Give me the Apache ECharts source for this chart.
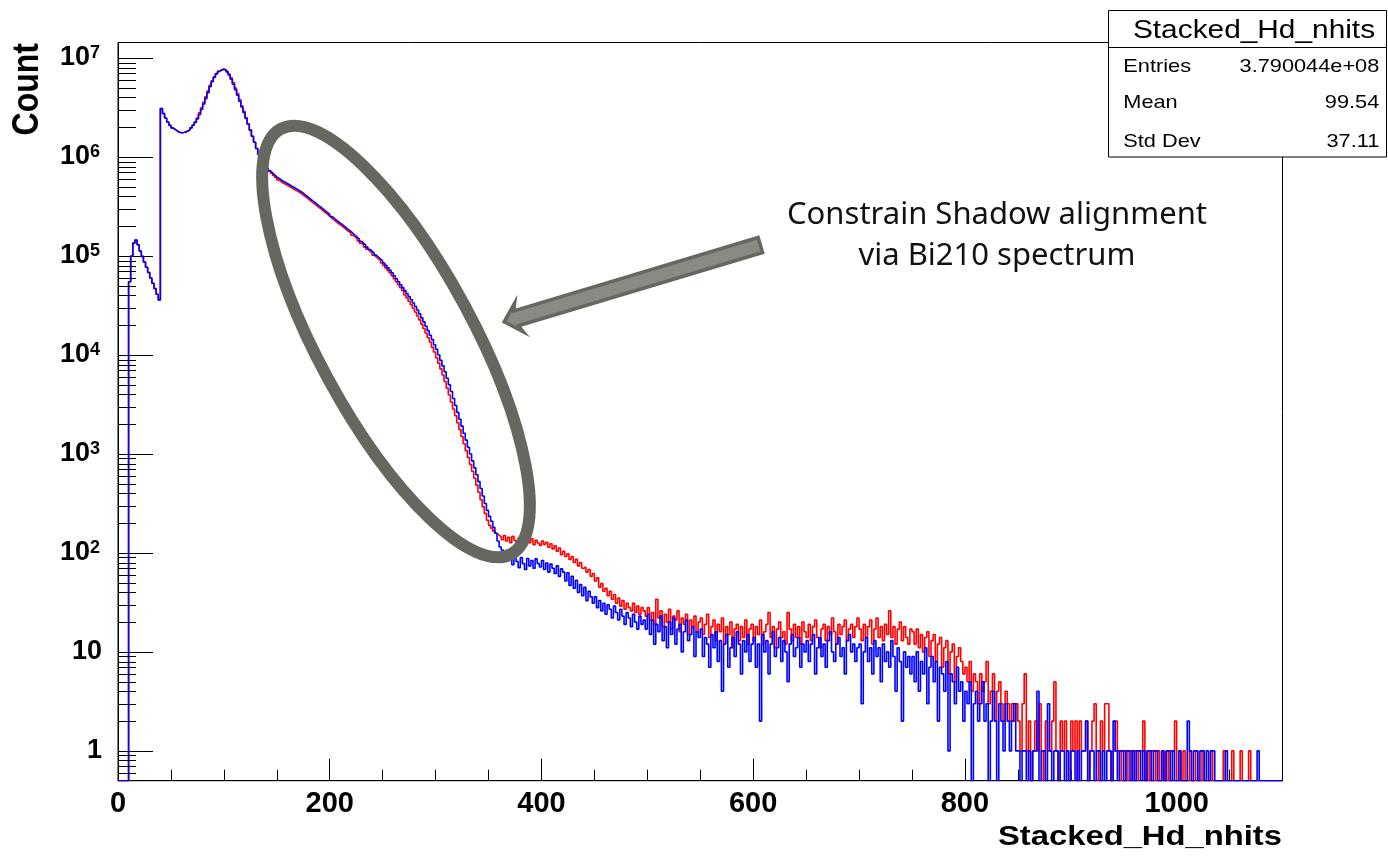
<!DOCTYPE html>
<html><head><meta charset="utf-8">
<script src="https://cdn.jsdelivr.net/npm/echarts@6/dist/echarts.min.js"></script>
<style>html,body{margin:0;padding:0;background:#fff}#c{width:1388px;height:857px}</style>
</head><body><div id="c"></div>
<script>
// ---------- data ----------
const binWidth = 2;            // width of one histogram bin (nhits)
const xRange = [0, 1100];
const yRange = [0.5, 1.435e7];
const xTickLabels = ['0', '200', '400', '600', '800', '1000'];
const yTickExponents = [0, 1, 2, 3, 4, 5, 6, 7];

// counts per bin, bins start at 0 and are binWidth wide (25 bins = 50 nhits per row)
const blueCounts = [
  0,0,0,0,0,5.5e4,1.0e5,1.35e5,1.45e5,1.3e5,1.12e5,9.9e4,8.7e4,7.7e4,6.8e4,6.0e4,5.3e4,4.7e4,4.1e4,3.6e4,3.09e6,2.75e6,2.48e6,2.26e6,2.09e6,
  1.97e6,1.905e6,1.84e6,1.78e6,1.76e6,1.77e6,1.79e6,1.83e6,1.88e6,1.97e6,2.09e6,2.24e6,2.43e6,2.69e6,3.02e6,3.43e6,3.89e6,4.47e6,5.13e6,5.75e6,6.38e6,6.92e6,7.33e6,7.59e6,7.69e6,
  7.59e6,7.24e6,6.76e6,6.1e6,5.43e6,4.79e6,4.22e6,3.67e6,3.2e6,2.82e6,2.45e6,2.14e6,1.86e6,1.62e6,1.41e6,1.22e6,1.06e6,9.44e5,8.71e5,8.13e5,7.67e5,7.24e5,6.92e5,6.61e5,6.31e5,
  6.1e5,5.89e5,5.69e5,5.56e5,5.4e5,5.25e5,5.09e5,4.95e5,4.81e5,4.68e5,4.54e5,4.4e5,4.23e5,4.06e5,3.91e5,3.76e5,3.61e5,3.48e5,3.34e5,3.21e5,3.09e5,2.97e5,2.85e5,2.74e5,2.63e5,
  2.51e5,2.42e5,2.32e5,2.23e5,2.15e5,2.07e5,1.99e5,1.91e5,1.84e5,1.77e5,1.69e5,1.62e5,1.55e5,1.48e5,1.41e5,1.35e5,1.29e5,1.23e5,1.17e5,1.12e5,1.07e5,1.02e5,9.77e4,9.33e4,8.95e4,
  8.51e4,8.04e4,7.59e4,7.16e4,6.76e4,6.31e4,5.89e4,5.5e4,5.13e4,4.79e4,4.47e4,4.17e4,3.89e4,3.63e4,3.35e4,3.09e4,2.85e4,2.6e4,2.37e4,2.16e4,1.95e4,1.76e4,1.58e4,1.43e4,1.27e4,
  1.14e4,1.0e4,8810,7760,6760,5820,5010,4270,3630,3090,2630,2240,1910,1620,1380,1170,1000,851,724,617,525,447,376,316,269,
  234,209,182,158,132,115,107,92,106,84,95,76,98,82,71,90,78,68,88,74,84,70,87,78,72,
  84,68,79,64,77,70,62,74,58,69,64,52,63,47,58,44,53,40,48,37,45,33,41,36,31,
  36,28,33,26,31,24,30,27,22,29,25,21,27,23,19,25,22,18,24,20,17,23,19,21,17,
  24,15,21,12,19,16,23,13,18,11,20,15,22,12,17,19,10,16,21,13,15,18,9,16,14,
  17,9,14,12,7,15,11,16,8,13,4,12,15,7,11,14,9,16,12,6,13,10,15,8,12,
  14,7,12,2,15,10,13,6,12,16,9,11,14,8,13,10,5,12,15,9,11,14,7,12,10,
  13,8,12,15,6,11,14,9,12,7,13,16,10,8,12,14,9,11,6,13,15,10,12,8,11,
  12,3,10,14,8,11,6,13,9,11,5,12,8,10,7,13,9,4,11,8,2,10,7,9,6,
  9,5,10,4,8,6,11,3,7,9,5,8,2,7,6,4,8,1,6,5,3,7,4,5,2,
  4,3,5,0,3,4,2,3,5,2,3,0,2,4,2,0,3,2,1,3,2,1,2,3,1,
  1,0,1,1,0,1,0,1,1,4,0,1,1,0,3,1,0,1,1,0,1,1,0,1,0,
  1,1,0,1,0,1,1,2,0,1,1,0,1,1,0,1,0,1,1,0,2,1,0,1,1,
  0,1,1,0,1,0,1,1,0,1,0,1,1,0,1,1,0,0,1,0,1,1,0,1,0,
  0,1,0,0,0,2,1,0,1,1,0,1,1,0,1,0,1,1,0,0,0,0,0,1,0,
  0,0,0,0,0,0,0,0,0,0,0,0,0,1,0,0,0,0,0,0,0,0,0,0,0
];
const redCounts = [
  0,0,0,0,0,5.5e4,1.0e5,1.35e5,1.45e5,1.3e5,1.12e5,9.9e4,8.7e4,7.7e4,6.8e4,6.0e4,5.3e4,4.7e4,4.1e4,3.6e4,3.09e6,2.75e6,2.48e6,2.26e6,2.09e6,
  1.97e6,1.905e6,1.84e6,1.78e6,1.76e6,1.77e6,1.79e6,1.83e6,1.88e6,1.97e6,2.09e6,2.26e6,2.47e6,2.8e6,3.15e6,3.57e6,4.05e6,4.65e6,5.3e6,5.9e6,6.45e6,6.95e6,7.33e6,7.59e6,7.69e6,
  7.59e6,7.3e6,6.9e6,6.3e6,5.65e6,4.98e6,4.38e6,3.8e6,3.3e6,2.9e6,2.5e6,2.17e6,1.88e6,1.62e6,1.41e6,1.22e6,1.06e6,9.44e5,8.71e5,8.13e5,7.67e5,7.2e5,6.85e5,6.5e5,6.2e5,
  5.86e5,5.65e5,5.46e5,5.34e5,5.18e5,5.04e5,4.89e5,4.75e5,4.62e5,4.49e5,4.36e5,4.22e5,4.06e5,3.9e5,3.75e5,3.61e5,3.47e5,3.34e5,3.21e5,3.08e5,2.97e5,2.85e5,2.74e5,2.63e5,2.52e5,
  2.41e5,2.32e5,2.23e5,2.14e5,2.06e5,1.99e5,1.91e5,1.83e5,1.77e5,1.70e5,1.62e5,1.56e5,1.49e5,1.42e5,1.35e5,1.29e5,1.23e5,1.17e5,1.12e5,1.07e5,1.02e5,9.77e4,9.33e4,8.95e4,8.51e4,
  8.04e4,7.59e4,7.16e4,6.76e4,6.31e4,5.89e4,5.5e4,5.13e4,4.79e4,4.47e4,4.03e4,3.76e4,3.49e4,3.22e4,2.97e4,2.72e4,2.48e4,2.26e4,2.05e4,1.85e4,1.67e4,1.5e4,1.35e4,1.2e4,1.07e4,
  9390,8270,7240,6270,5400,4620,3940,3350,2850,2430,2070,1760,1500,1270,1080,923,785,668,569,484,410,345,292,251,214,
  190,178,166,158,151,145,136,150,132,144,127,147,134,124,142,129,140,122,136,127,139,121,134,126,119,
  132,122,128,114,124,110,118,104,112,96,104,92,98,86,92,80,86,74,80,70,72,64,68,58,62,
  52,56,45,49,41,44,37,41,34,38,31,35,29,33,27,31,28,26,31,25,29,24,28,26,23,
  28,21,25,19,34,22,26,18,24,20,27,17,23,21,26,16,22,19,24,15,21,18,23,16,20,
  22,15,19,24,14,18,21,13,19,16,22,12,18,15,20,11,17,19,13,18,14,21,12,17,19,
  13,18,15,21,12,16,19,25,14,18,11,17,20,14,16,12,25,17,13,19,14,18,12,20,16,
  14,19,13,18,21,14,11,17,19,13,18,15,22,16,12,19,15,18,21,13,17,19,14,18,22,
  17,13,19,14,18,21,12,17,22,14,18,13,19,15,26,14,18,12,17,20,13,18,14,12,17,
  16,12,17,11,15,10,14,16,9,13,15,8,12,14,7,11,13,6,10,12,5,9,11,8,6,
  7,5,8,4,6,5,3,6,4,5,8,3,4,6,2,4,5,3,2,4,3,2,3,2,3,
  2,1,3,6,1,2,0,1,2,1,3,1,0,2,1,1,2,5,1,0,2,1,2,1,0,
  2,1,2,0,2,1,1,2,0,1,2,3,1,0,2,1,3,3,1,0,1,2,1,0,1,
  1,0,1,1,0,1,0,1,1,2,0,1,0,1,1,0,1,0,1,0,1,0,1,1,2,
  0,1,0,1,0,0,1,0,0,1,0,0,1,0,0,0,1,0,0,0,0,0,1,0,0,
  0,1,0,0,0,1,0,0,0,1,0,0,0,0,0,0,0,0,0,0,0,0,0,0,0
];
const statsTitle = 'Stacked_Hd_nhits';
const statsRows = [['Entries', '3.790044e+08'], ['Mean', '99.54'], ['Std Dev', '37.11']];
const xTitle = 'Stacked_Hd_nhits';
const yTitle = 'Count';
const noteText = 'Constrain Shadow alignment\nvia Bi210 spectrum';

// ---------- helpers ----------
function toSteps(counts) {
  // empty bins are drawn on the lower frame edge, as ROOT does on a log scale
  const pts = counts.map((c, i) => [xRange[0] + i * binWidth, c > 0 ? c : yRange[0]]);
  pts.push([xRange[0] + counts.length * binWidth, pts[pts.length - 1][1]]);
  return pts;
}
const minorTickValues = [];
for (let e = -1; e <= 7; e++) {
  for (let k = 2; k <= 9; k++) {
    const v = k * Math.pow(10, e);
    if (v > yRange[0] && v < yRange[1]) minorTickValues.push([0, v]);
  }
}

const FONT = '"Liberation Sans", Arial, Helvetica, sans-serif';
const STRETCH = 1.17;

const chart = echarts.init(document.getElementById('c'), null, { renderer: 'canvas' });
chart.setOption({
  animation: false,
  backgroundColor: '#ffffff',
  grid: {
    left: 118, right: 105.5, top: 42.5, bottom: 76.3,
    show: true, borderColor: '#000', borderWidth: 1, backgroundColor: 'transparent',
    containLabel: false, outerBoundsMode: 'none'
  },
  xAxis: [
    {
      type: 'value', min: xRange[0], max: xRange[1], interval: 200,
      axisLine: { show: true, lineStyle: { color: '#000', width: 1 } },
      axisTick: { show: true, inside: true, length: 22, lineStyle: { color: '#000', width: 1 } },
      splitLine: { show: false },
      axisLabel: {
        show: true, margin: 9, color: '#000', fontFamily: FONT, fontWeight: 'bold', fontSize: 29,
        showMaxLabel: true, showMinLabel: true,
        formatter: v => (xTickLabels.indexOf(String(v)) >= 0 ? String(v) : '')
      }
    },
    {
      type: 'value', min: xRange[0], max: xRange[1], interval: 50, position: 'bottom',
      axisLine: { show: false },
      axisTick: { show: true, inside: true, length: 11, lineStyle: { color: '#000', width: 1 } },
      splitLine: { show: false },
      axisLabel: { show: false }
    }
  ],
  yAxis: {
    type: 'log', logBase: 10, min: yRange[0], max: yRange[1], splitNumber: 8,
    axisLine: { show: true, lineStyle: { color: '#000', width: 1 } },
    axisTick: { show: true, inside: true, length: 35, lineStyle: { color: '#000', width: 1 } },
    splitLine: { show: false },
    minorTick: { show: false },
    axisLabel: {
      show: true, margin: 16, color: '#000', fontFamily: FONT, fontWeight: 'bold', fontSize: 27,
      formatter: function (v) {
        const lg = Math.log10(v);
        const e = Math.round(lg);
        if (Math.abs(lg - e) > 1e-6 || yTickExponents.indexOf(e) < 0) return '';
        if (e === 0) return '1';
        if (e === 1) return '10';
        return '{b|10}{s|' + e + '}';
      },
      rich: {
        b: { fontFamily: FONT, fontWeight: 'bold', fontSize: 27, lineHeight: 27, verticalAlign: 'bottom', color: '#000' },
        s: { fontFamily: FONT, fontWeight: 'bold', fontSize: 18, lineHeight: 27, verticalAlign: 'top', color: '#000', padding: [0, 2, 11, 0] }
      }
    }
  },
  series: [
    {
      name: 'red', type: 'line', step: 'end', data: toSteps(redCounts),
      showSymbol: false, symbol: 'none', silent: true, clip: true, z: 2,
      lineStyle: { color: '#ff0000', width: 1.6 }
    },
    {
      name: 'blue', type: 'line', step: 'end', data: toSteps(blueCounts),
      showSymbol: false, symbol: 'none', silent: true, clip: true, z: 3,
      lineStyle: { color: '#0000ff', width: 1.6 }
    },
    {
      name: 'yMinorTicks', type: 'custom', coordinateSystem: 'cartesian2d', silent: true, z: 4,
      data: minorTickValues,
      renderItem: function (params, api) {
        const p = api.coord([xRange[0], api.value(1)]);
        return { type: 'line', shape: { x1: p[0], y1: Math.round(p[1]) + 0.5, x2: p[0] + 18, y2: Math.round(p[1]) + 0.5 },
                 style: { stroke: '#000', lineWidth: 1 } };
      }
    }
  ],
  graphic: [
    // axis titles
    { type: 'text', x: 27.5, y: 43, rotation: Math.PI / 2, scaleY: STRETCH, z: 50,
      style: { text: yTitle, align: 'right', verticalAlign: 'middle', fill: '#000',
               font: 'bold 32px ' + FONT } },
    { type: 'text', x: 1282, y: 837, scaleX: STRETCH, z: 50,
      style: { text: xTitle, align: 'right', verticalAlign: 'middle', fill: '#000',
               font: 'bold 28px ' + FONT } },
    // stats box
    { type: 'rect', z: 60, shape: { x: 1108.5, y: 10.5, width: 278, height: 146.5 },
      style: { fill: '#fff', stroke: '#000', lineWidth: 1 } },
    { type: 'line', z: 61, shape: { x1: 1108.5, y1: 47.5, x2: 1386.5, y2: 47.5 },
      style: { stroke: '#000', lineWidth: 1 } },
    { type: 'text', z: 62, x: 1254, y: 31, scaleX: STRETCH,
      style: { text: statsTitle, align: 'center', verticalAlign: 'middle', fill: '#000', font: '25.5px ' + FONT } },
    ...statsRows.map((r, i) => ({ type: 'text', z: 62, x: 1123.3, y: [67, 103, 141.5][i], scaleX: STRETCH,
      style: { text: r[0], align: 'left', verticalAlign: 'middle', fill: '#000', font: '18.6px ' + FONT } })),
    ...statsRows.map((r, i) => ({ type: 'text', z: 62, x: 1379.3, y: [67, 103, 141.5][i], scaleX: STRETCH,
      style: { text: r[1], align: 'right', verticalAlign: 'middle', fill: '#000', font: '18.6px ' + FONT } })),
    // annotation
    { type: 'ellipse', z: 70, x: 396, y: 341.5, rotation: -1.0743,
      shape: { cx: 0, cy: 0, rx: 241.8, ry: 77.5 },
      style: { fill: 'none', stroke: '#676762', lineWidth: 12 } },
    { type: 'polygon', z: 70, x: 502.7, y: 322.3, rotation: 0.2915,
      shape: { points: [[1.5, 0], [17, -15], [14, -7.8], [269, -7.8], [269, 7.8], [14, 7.8], [17, 15]] },
      style: { fill: '#8a8a85', stroke: '#676762', lineWidth: 3.5, lineJoin: 'miter' } },
    { type: 'text', z: 70, x: 997, y: 236,
      style: { text: noteText, align: 'center', verticalAlign: 'middle', lineHeight: 41, fill: '#111',
               font: '31px "Noto Sans", "Open Sans", sans-serif' } }
  ]
});
</script>
</body></html>
